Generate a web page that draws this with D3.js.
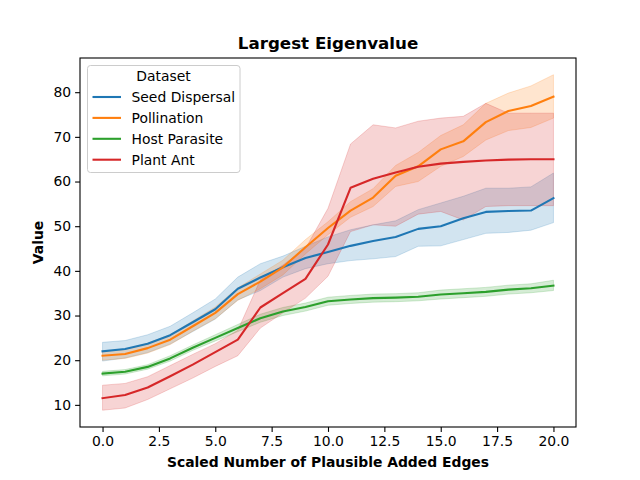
<!DOCTYPE html>
<html>
<head>
<meta charset="utf-8">
<script src="https://cdn.jsdelivr.net/npm/d3@7"></script>
<style>
  body { margin: 0; background: #fff; }
  svg { font-family: "DejaVu Sans", sans-serif; }
</style>
</head>
<body>
<svg id="chart" width="640" height="480"></svg>
<script>
// data (x = 0..20)
const xs = d3.range(0, 21);
const datasets = ['Seed Dispersal', 'Pollination', 'Host Parasite', 'Plant Ant'];
const colors = ['#1f77b4', '#ff7f0e', '#2ca02c', '#d62728'];

const seedMean  = [22.0, 22.5, 23.7, 25.6, 28.5, 31.4, 36.0, 38.5, 40.8, 42.9, 44.2, 45.6, 46.7, 47.6, 49.4, 50.0, 51.8, 53.2, 53.4, 53.5, 56.3];
const seedUpper = [24.0, 24.4, 25.7, 27.6, 30.6, 33.7, 38.6, 41.6, 43.3, 45.5, 47.6, 49.2, 50.3, 51.2, 53.7, 55.2, 56.7, 58.5, 58.5, 58.8, 61.9];
const seedLower = [19.8, 20.5, 21.7, 23.6, 26.4, 29.2, 33.5, 35.6, 38.6, 40.5, 41.6, 42.3, 42.7, 43.2, 45.5, 45.6, 47.0, 48.4, 48.6, 49.1, 50.8];

const pollMean  = [21.0, 21.4, 22.7, 24.6, 27.6, 30.6, 34.8, 37.6, 40.8, 45.3, 49.6, 53.5, 56.4, 61.3, 63.4, 67.2, 69.0, 73.3, 75.8, 76.9, 79.0];
const pollUpper = [22.0, 22.4, 23.8, 25.7, 28.8, 31.9, 36.2, 39.3, 42.4, 47.0, 51.0, 55.5, 58.4, 63.6, 66.5, 70.3, 72.7, 77.5, 79.8, 81.4, 83.9];
const pollLower = [20.0, 20.4, 21.6, 23.5, 26.5, 29.3, 33.4, 36.0, 39.1, 43.8, 48.1, 52.0, 54.4, 58.9, 60.0, 63.4, 65.6, 69.3, 71.4, 72.1, 74.2];

const hostMean  = [17.0, 17.4, 18.5, 20.4, 22.8, 25.0, 27.2, 29.4, 30.9, 31.9, 33.2, 33.6, 33.9, 34.0, 34.2, 34.7, 35.0, 35.3, 35.8, 36.1, 36.7];
const hostUpper = [17.5, 17.9, 19.0, 21.0, 23.4, 25.7, 28.0, 30.3, 31.8, 32.8, 34.1, 34.5, 34.8, 34.9, 35.1, 35.7, 36.0, 36.3, 36.8, 37.1, 37.9];
const hostLower = [16.5, 16.9, 18.0, 19.8, 22.2, 24.3, 26.4, 28.5, 30.0, 31.0, 32.3, 32.7, 33.0, 33.1, 33.3, 33.7, 34.0, 34.3, 34.8, 35.1, 35.6];

const antMean  = [11.5, 12.2, 13.9, 16.4, 19.0, 21.8, 24.6, 31.8, 35.0, 38.2, 45.9, 58.6, 60.6, 62.0, 63.3, 64.0, 64.4, 64.7, 64.9, 65.0, 65.0];
const antUpper = [14.4, 14.8, 16.3, 18.8, 21.3, 23.7, 26.7, 38.0, 41.3, 45.0, 54.0, 68.4, 72.7, 72.0, 73.5, 74.2, 74.6, 77.5, 75.3, 75.3, 75.3];
const antLower = [8.8, 9.3, 11.2, 13.6, 16.0, 18.6, 21.0, 27.2, 30.6, 33.9, 38.8, 48.8, 50.3, 50.0, 52.7, 53.3, 51.4, 54.4, 54.6, 54.6, 54.6];

const xTicks = [0, 2.5, 5, 7.5, 10, 12.5, 15, 17.5, 20];
const yTicks = [10, 20, 30, 40, 50, 60, 70, 80];

const means = [seedMean, pollMean, hostMean, antMean];
const uppers = [seedUpper, pollUpper, hostUpper, antUpper];
const lowers = [seedLower, pollLower, hostLower, antLower];

const series = datasets.map((name, i) => ({
  name, color: colors[i],
  pts: xs.map((x, j) => ({ x, m: means[i][j], lo: lowers[i][j], hi: uppers[i][j] }))
}));

// axes box (matplotlib-like)
const L = 80, R = 576, T = 58, B = 427;
const svg = d3.select('#chart');

// autoscale with 5% margins like matplotlib
const xMin = d3.min(xs), xMax = d3.max(xs);
const xPad = (xMax - xMin) * 0.05;
const yMin = d3.min(lowers.flat()), yMax = d3.max(uppers.flat());
const yPad = (yMax - yMin) * 0.05;

const x = d3.scaleLinear().domain([xMin - xPad, xMax + xPad]).range([L, R]);
const y = d3.scaleLinear().domain([yMin - yPad, yMax + yPad]).range([B, T]);

const plot = svg.append('g');

// bands first (lower zorder), then lines
const area = d3.area().x(d => x(d.x)).y0(d => y(d.lo)).y1(d => y(d.hi));
plot.selectAll('path.band').data(series).enter().append('path')
  .attr('class', 'band')
  .attr('d', d => area(d.pts))
  .attr('fill', d => d.color).attr('fill-opacity', 0.2)
  .attr('stroke', d => d.color).attr('stroke-opacity', 0.2).attr('stroke-width', 1);

const line = d3.line().x(d => x(d.x)).y(d => y(d.m));
plot.selectAll('path.line').data(series).enter().append('path')
  .attr('class', 'line')
  .attr('d', d => line(d.pts))
  .attr('fill', 'none')
  .attr('stroke', d => d.color).attr('stroke-width', 2.1)
  .attr('stroke-linejoin', 'round').attr('stroke-linecap', 'square');

// axes
const xAxis = d3.axisBottom(x).tickValues(xTicks).tickFormat(d3.format('.1f')).tickSize(4.9).tickPadding(4);
const yAxis = d3.axisLeft(y).tickValues(yTicks).tickFormat(d3.format('d')).tickSize(4.9).tickPadding(4);

const gx = svg.append('g').attr('transform', `translate(0,${B})`).call(xAxis);
const gy = svg.append('g').attr('transform', `translate(${L},0)`).call(yAxis);
[gx, gy].forEach(g => {
  g.select('.domain').remove();
  g.selectAll('.tick line').attr('stroke', '#000').attr('stroke-width', 1.1);
  g.selectAll('.tick text').attr('fill', '#000').style('font-size', '13.9px').style('font-family', '"DejaVu Sans", sans-serif');
});

// frame
svg.append('rect').attr('x', L).attr('y', T).attr('width', R - L).attr('height', B - T)
  .attr('fill', 'none').attr('stroke', '#000').attr('stroke-width', 1.1);

// labels
svg.append('text').attr('x', (L + R) / 2).attr('y', 49).attr('text-anchor', 'middle')
  .style('font-size', '16.7px').style('font-weight', 'bold').text('Largest Eigenvalue');
svg.append('text').attr('x', (L + R) / 2).attr('y', 467).attr('text-anchor', 'middle')
  .style('font-size', '13.9px').style('font-weight', 'bold').text('Scaled Number of Plausible Added Edges');
svg.append('text').attr('transform', `translate(43,${(T + B) / 2}) rotate(-90)`).attr('text-anchor', 'middle')
  .style('font-size', '13.9px').style('font-weight', 'bold').text('Value');

// legend
const leg = svg.append('g').attr('transform', 'translate(87.5,65.5)');
leg.append('rect').attr('width', 152.5).attr('height', 107).attr('rx', 3)
  .attr('fill', '#fff').attr('fill-opacity', 0.8).attr('stroke', '#cccccc').attr('stroke-width', 1);
leg.append('text').attr('x', 76).attr('y', 15.5).attr('text-anchor', 'middle')
  .style('font-size', '13.9px').text('Dataset');
const rows = leg.selectAll('g.row').data(series).enter().append('g')
  .attr('class', 'row').attr('transform', (d, i) => `translate(0,${31.5 + i * 20.9})`);
rows.append('line').attr('x1', 5).attr('x2', 33.5).attr('stroke', d => d.color).attr('stroke-width', 2.1);
rows.append('text').attr('x', 44).attr('y', 5).style('font-size', '13.9px').text(d => d.name);
</script>
</body>
</html>
